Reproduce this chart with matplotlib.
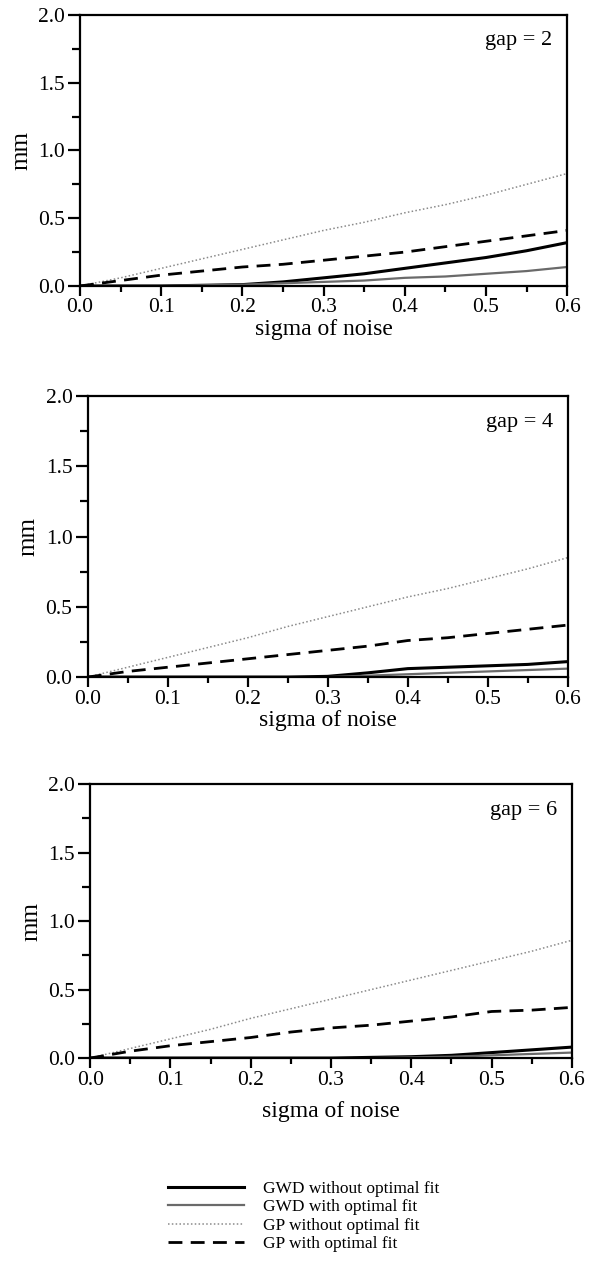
import matplotlib
matplotlib.use('Agg')
import matplotlib.pyplot as plt
from matplotlib.ticker import MultipleLocator
from matplotlib.lines import Line2D
import numpy as np

plt.rcParams['font.family'] = ['Liberation Serif', 'DejaVu Serif']

sigma = [0.0, 0.05, 0.1, 0.15, 0.2, 0.25, 0.3, 0.35, 0.4, 0.45, 0.5, 0.55, 0.6]

gaps = [2, 4, 6]

gwd_without = [
    [0, 0, 0, 0.005, 0.01, 0.03, 0.06, 0.09, 0.13, 0.17, 0.21, 0.26, 0.32],
    [0, 0, 0, 0, 0, 0, 0.005, 0.03, 0.06, 0.07, 0.08, 0.09, 0.11],
    [0, 0, 0, 0, 0, 0, 0, 0.005, 0.01, 0.02, 0.04, 0.06, 0.08],
]
gwd_with = [
    [0, 0, 0, 0.005, 0.01, 0.02, 0.03, 0.04, 0.06, 0.07, 0.09, 0.11, 0.14],
    [0, 0, 0, 0, 0, 0, 0, 0.01, 0.02, 0.03, 0.04, 0.05, 0.06],
    [0, 0, 0, 0, 0, 0, 0, 0, 0.005, 0.01, 0.02, 0.03, 0.04],
]
gp_without = [
    [0, 0.06, 0.13, 0.20, 0.27, 0.34, 0.41, 0.47, 0.54, 0.60, 0.67, 0.75, 0.83],
    [0, 0.07, 0.14, 0.21, 0.28, 0.36, 0.43, 0.50, 0.57, 0.63, 0.70, 0.77, 0.85],
    [0, 0.07, 0.14, 0.21, 0.29, 0.36, 0.43, 0.50, 0.57, 0.64, 0.71, 0.78, 0.86],
]
gp_with = [
    [0, 0.04, 0.08, 0.11, 0.14, 0.16, 0.19, 0.22, 0.25, 0.29, 0.33, 0.37, 0.41],
    [0, 0.04, 0.07, 0.10, 0.13, 0.16, 0.19, 0.22, 0.26, 0.28, 0.31, 0.34, 0.37],
    [0, 0.05, 0.09, 0.12, 0.15, 0.19, 0.22, 0.24, 0.27, 0.30, 0.34, 0.35, 0.37],
]

legend_labels = ['GWD without optimal fit', 'GWD with optimal fit',
                 'GP without optimal fit', 'GP with optimal fit']

# axes boxes in figure fraction: left, bottom, width, height
boxes = [
    [0.134, 0.7734, 0.816, 0.2147],
    [0.147, 0.4635, 0.804, 0.2227],
    [0.151, 0.1616, 0.807, 0.2171],
]
xlabel_pads = [1, 1, 8]

styles = [
    dict(color='black', lw=2.2, ls='-'),
    dict(color='#6a6a6a', lw=1.6, ls='-'),
    dict(color='#8a8a8a', lw=1.1, ls=(0, (1, 1.5))),
    dict(color='black', lw=2.0, ls=(0, (5, 3))),
]

fig = plt.figure(figsize=(5.97, 12.62), dpi=100)

for i, gap in enumerate(gaps):
    ax = fig.add_axes(boxes[i])
    series = [gwd_without[i], gwd_with[i], gp_without[i], gp_with[i]]
    for s, st in zip(series, styles):
        ax.plot(sigma, s, **st)
    ax.set_xlim(0, 0.6)
    ax.set_ylim(0, 2.0)
    ax.xaxis.set_major_locator(MultipleLocator(0.1))
    ax.xaxis.set_minor_locator(MultipleLocator(0.05))
    ax.yaxis.set_major_locator(MultipleLocator(0.5))
    ax.yaxis.set_minor_locator(MultipleLocator(0.25))
    ax.xaxis.set_major_formatter(plt.FormatStrFormatter('%.1f'))
    ax.yaxis.set_major_formatter(plt.FormatStrFormatter('%.1f'))
    ax.tick_params(axis='x', which='major', direction='out', length=7, width=1.6, labelsize=15.5, pad=2)
    ax.tick_params(axis='x', which='minor', direction='out', length=4.5, width=1.6)
    ax.tick_params(axis='y', which='major', direction='out', length=9, width=1.6, labelsize=15.5, pad=2)
    ax.tick_params(axis='y', which='minor', direction='out', length=6, width=1.6)
    for sp in ax.spines.values():
        sp.set_linewidth(1.6)
    ax.set_xlabel('sigma of noise', fontsize=17, labelpad=xlabel_pads[i])
    ax.set_ylabel('mm', fontsize=18, labelpad=4)
    ax.text(0.97, 0.94, 'gap = %d' % gap, transform=ax.transAxes,
            ha='right', va='top', fontsize=16)

handles = [Line2D([], [], **st) for st in styles]
fig.legend(handles, legend_labels, loc='upper left', bbox_to_anchor=(0.255, 0.077),
           frameon=False, fontsize=12.5, handlelength=4.4, handletextpad=1.1,
           labelspacing=0.14)

fig.savefig('out.png', dpi=100)
